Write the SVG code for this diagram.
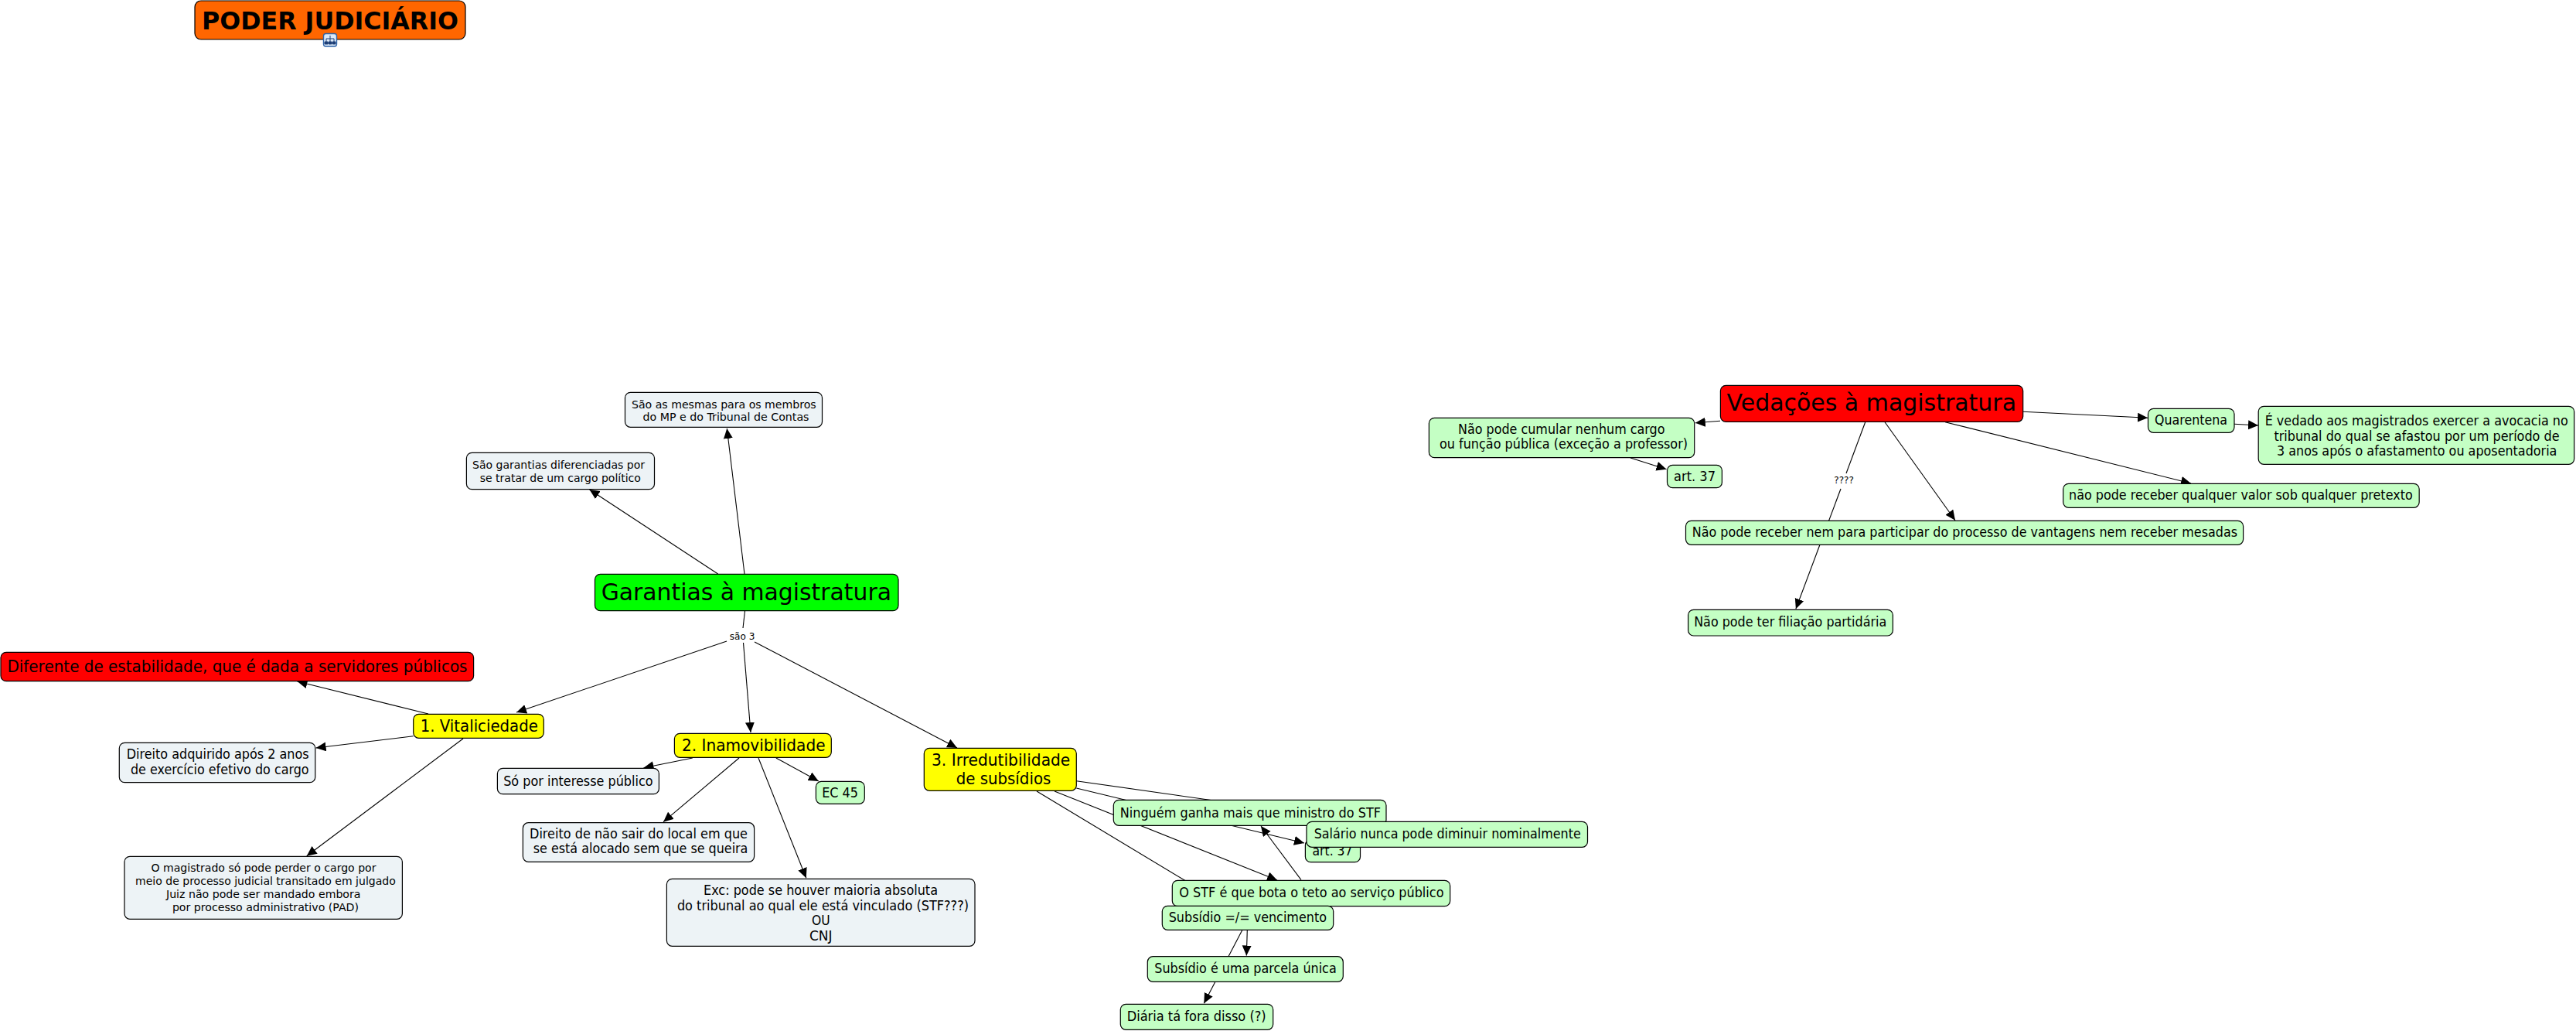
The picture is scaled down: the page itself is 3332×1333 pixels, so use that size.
<svg xmlns="http://www.w3.org/2000/svg" width="3332" height="1333" viewBox="0 0 3332 1333">
<style>
text{font-family:"DejaVu Sans","Verdana",sans-serif;fill:#000}
.t12{font-size:12.5px}.t14{font-size:14.6px}.t16{font-size:16.8px}.t20{font-size:21px}.t30{font-size:31px}.tb{font-size:32px;font-weight:bold}
rect{stroke:#000;stroke-width:1.2}
.g{fill:#c4ffc4}.b{fill:#edf3f6}.y{fill:#ff0}.r{fill:#f00}.l{fill:#0f0}.o{fill:#f60}
#connectors path{fill:none;stroke:#000;stroke-width:1.1}
#connectors .a{marker-end:url(#h)}
</style>
<defs><marker id="h" markerUnits="userSpaceOnUse" markerWidth="15" markerHeight="13" refX="13" refY="6" orient="auto"><path d="M0,0L13,6L0,12z" fill="#000"/></marker></defs>
<rect width="3332" height="1333" style="fill:#fff;stroke:none"/>
<g id="connectors">
<path class="a" d="M963,742L940.3,554"/>
<path class="a" d="M928.6,742L762.5,633"/>
<path d="M963.5,790L961,812"/>
<path class="a" d="M940,829L668,921"/>
<path class="a" d="M961.5,831L971,947"/>
<path class="a" d="M976,830L1238,967"/>
<path class="a" d="M554,923L384.5,881"/>
<path class="a" d="M534.7,951.7L408.6,967"/>
<path class="a" d="M599,955L396.7,1106.7"/>
<path class="a" d="M895.8,980L832.5,992.7"/>
<path class="a" d="M956,980L858,1062.7"/>
<path class="a" d="M981,980L1042.8,1135.3"/>
<path class="a" d="M1003.8,980L1058.8,1010"/>
<path class="a" d="M1392.3,1009.7L1760,1062"/>
<path class="a" d="M1392.3,1019L1687,1090"/>
<path class="a" d="M1364,1023L1652,1138"/>
<path class="a" d="M1341,1023L1587,1171"/>
<path class="a" d="M1683,1137.7L1631,1068"/>
<path class="a" d="M1613.3,1202.7L1612.3,1235.5"/>
<path class="a" d="M1606.7,1202.7L1557.3,1297.3"/>
<path class="a" d="M2225,544.3L2192.8,546.7"/>
<path class="a" d="M2109,592L2155.5,606.7"/>
<path d="M2412.7,545.7L2388,612"/>
<path class="a" d="M2381,632L2322.9,787.3"/>
<path class="a" d="M2438,545.7L2529,672.7"/>
<path class="a" d="M2516,545.7L2834,625"/>
<path class="a" d="M2616.7,532.3L2778,540.3"/>
<path class="a" d="M2890,548.3L2921,550"/>
</g>
<g id="n-sao3"><text class="t12" x="943.8" y="827" textLength="32.5" lengthAdjust="spacingAndGlyphs">são 3</text></g>
<g id="n-q"><text class="t12" x="2372.3" y="624.7" textLength="25.6" lengthAdjust="spacingAndGlyphs">????</text></g>
<g id="n-titulo"><rect class="o" x="252" y="1" width="350" height="50" rx="8"/><text class="tb" x="261" y="37.7" textLength="332" lengthAdjust="spacingAndGlyphs">PODER JUDICIÁRIO</text>
<rect x="418.5" y="43.5" width="17" height="16.5" rx="3" style="fill:#dbe9f8;stroke:#2f64a8;stroke-width:1.4"/><path d="M427,46v3M422,50h10M422,50v4M432,50v4M427,49v5M420,54h4v3h-4zM425,54h4v3h-4zM430,54h4v3h-4z" fill="#1c3f77" stroke="#1c3f77" stroke-width="1"/></g>
<g id="n-garantias"><rect class="l" x="769.5" y="742.3" width="392.5" height="47.4" rx="7"/><text class="t30" x="777.7" y="775.7" textLength="375.3" lengthAdjust="spacingAndGlyphs">Garantias à magistratura</text></g>
<g id="n-mesmas"><rect class="b" x="808.5" y="507.3" width="255" height="45" rx="7"/><text class="t14" x="817" y="527.7" textLength="238.7" lengthAdjust="spacingAndGlyphs">São as mesmas para os membros</text><text class="t14" x="831.5" y="544.3" textLength="215" lengthAdjust="spacingAndGlyphs">do MP e do Tribunal de Contas</text></g>
<g id="n-diferenciadas"><rect class="b" x="603.4" y="585.3" width="243.1" height="47.4" rx="7"/><text class="t14" x="611" y="605.7" textLength="223" lengthAdjust="spacingAndGlyphs">São garantias diferenciadas por</text><text class="t14" x="620.7" y="622.7" textLength="208.2" lengthAdjust="spacingAndGlyphs">se tratar de um cargo político</text></g>
<g id="n-diferente"><rect class="r" x="1" y="843.3" width="611.6" height="37.4" rx="7"/><text class="t20" x="9.4" y="868.7" textLength="595.1" lengthAdjust="spacingAndGlyphs">Diferente de estabilidade, que é dada a servidores públicos</text></g>
<g id="n-vitaliciedade"><rect class="y" x="534.7" y="923.3" width="168.6" height="31" rx="7"/><text class="t20" x="543.7" y="946" textLength="152.2" lengthAdjust="spacingAndGlyphs">1. Vitaliciedade</text></g>
<g id="n-adquirido"><rect class="b" x="154.3" y="960.3" width="253.5" height="51.4" rx="7"/><text class="t16" x="163.7" y="981.3" textLength="235.9" lengthAdjust="spacingAndGlyphs">Direito adquirido após 2 anos</text><text class="t16" x="169" y="1001" textLength="230.6" lengthAdjust="spacingAndGlyphs">de exercício efetivo do cargo</text></g>
<g id="n-perder"><rect class="b" x="161" y="1107.3" width="359.4" height="81" rx="7"/><text class="t14" x="195.5" y="1127" textLength="291" lengthAdjust="spacingAndGlyphs">O magistrado só pode perder o cargo por</text><text class="t14" x="175" y="1144" textLength="336.8" lengthAdjust="spacingAndGlyphs">meio de processo judicial transitado em julgado</text><text class="t14" x="215" y="1161" textLength="251.5" lengthAdjust="spacingAndGlyphs">Juiz não pode ser mandado embora</text><text class="t14" x="222.9" y="1178" textLength="241.1" lengthAdjust="spacingAndGlyphs">por processo administrativo (PAD)</text></g>
<g id="n-inamovibilidade"><rect class="y" x="872.4" y="948.3" width="202.9" height="31" rx="7"/><text class="t20" x="882" y="971" textLength="185.5" lengthAdjust="spacingAndGlyphs">2. Inamovibilidade</text></g>
<g id="n-interesse"><rect class="b" x="643.4" y="993.3" width="209" height="33.4" rx="7"/><text class="t16" x="651.2" y="1015.7" textLength="193.4" lengthAdjust="spacingAndGlyphs">Só por interesse público</text></g>
<g id="n-ec45"><rect class="g" x="1055.4" y="1010.3" width="62.9" height="29" rx="7"/><text class="t16" x="1063.2" y="1031" textLength="46.8" lengthAdjust="spacingAndGlyphs">EC 45</text></g>
<g id="n-local"><rect class="b" x="676.4" y="1063.7" width="299.2" height="50.6" rx="7"/><text class="t16" x="685" y="1083.7" textLength="282" lengthAdjust="spacingAndGlyphs">Direito de não sair do local em que</text><text class="t16" x="689.8" y="1103.3" textLength="277.6" lengthAdjust="spacingAndGlyphs">se está alocado sem que se queira</text></g>
<g id="n-exc"><rect class="b" x="862.4" y="1136.3" width="398.6" height="87" rx="7"/><text class="t16" x="910" y="1157" textLength="303" lengthAdjust="spacingAndGlyphs">Exc: pode se houver maioria absoluta</text><text class="t16" x="875.9" y="1176.7" textLength="377.1" lengthAdjust="spacingAndGlyphs">do tribunal ao qual ele está vinculado (STF???)</text><text class="t16" x="1050" y="1196.3" textLength="23.6" lengthAdjust="spacingAndGlyphs">OU</text><text class="t16" x="1047" y="1215.7" textLength="29.6" lengthAdjust="spacingAndGlyphs">CNJ</text></g>
<g id="n-irredutibilidade"><rect class="y" x="1195.3" y="967.3" width="197" height="55" rx="7"/><text class="t20" x="1205" y="990" textLength="179.3" lengthAdjust="spacingAndGlyphs">3. Irredutibilidade</text><text class="t20" x="1236.7" y="1014" textLength="122.6" lengthAdjust="spacingAndGlyphs">de subsídios</text></g>
<g id="n-art37b"><rect class="g" x="1688.4" y="1085.7" width="71.1" height="29" rx="7"/><text class="t16" x="1697.5" y="1106" textLength="52" lengthAdjust="spacingAndGlyphs">art. 37</text></g>
<g id="n-ninguem"><rect class="g" x="1440.3" y="1034.3" width="352.7" height="33" rx="7"/><text class="t16" x="1448.7" y="1056.7" textLength="337.3" lengthAdjust="spacingAndGlyphs">Ninguém ganha mais que ministro do STF</text></g>
<g id="n-salario"><rect class="g" x="1690" y="1062.3" width="363.5" height="33" rx="7"/><text class="t16" x="1699.7" y="1084" textLength="345.1" lengthAdjust="spacingAndGlyphs">Salário nunca pode diminuir nominalmente</text></g>
<g id="n-teto"><rect class="g" x="1516.3" y="1138.3" width="359.4" height="33.4" rx="7"/><text class="t16" x="1525.3" y="1160.3" textLength="342.2" lengthAdjust="spacingAndGlyphs">O STF é que bota o teto ao serviço público</text></g>
<g id="n-subsidio"><rect class="g" x="1503.3" y="1171.3" width="221.4" height="31" rx="7"/><text class="t16" x="1511.7" y="1192.3" textLength="204.3" lengthAdjust="spacingAndGlyphs">Subsídio =/= vencimento</text></g>
<g id="n-parcela"><rect class="g" x="1484.3" y="1236.7" width="253" height="32.6" rx="7"/><text class="t16" x="1493.3" y="1258.3" textLength="235.4" lengthAdjust="spacingAndGlyphs">Subsídio é uma parcela única</text></g>
<g id="n-diaria"><rect class="g" x="1449.3" y="1298.3" width="197.4" height="33" rx="7"/><text class="t16" x="1457.7" y="1320" textLength="180" lengthAdjust="spacingAndGlyphs">Diária tá fora disso (?)</text></g>
<g id="n-vedacoes"><rect class="r" x="2225.4" y="498.3" width="391.3" height="47" rx="7"/><text class="t30" x="2233.6" y="530.7" textLength="374.4" lengthAdjust="spacingAndGlyphs">Vedações à magistratura</text></g>
<g id="n-cumular"><rect class="g" x="1848.4" y="540.3" width="343.3" height="51.4" rx="7"/><text class="t16" x="1886" y="561" textLength="267.5" lengthAdjust="spacingAndGlyphs">Não pode cumular nenhum cargo</text><text class="t16" x="1862" y="580.3" textLength="321" lengthAdjust="spacingAndGlyphs">ou função pública (exceção a professor)</text></g>
<g id="n-art37a"><rect class="g" x="2156.5" y="601.3" width="70.9" height="29.4" rx="7"/><text class="t16" x="2165" y="622" textLength="54" lengthAdjust="spacingAndGlyphs">art. 37</text></g>
<g id="n-vantagens"><rect class="g" x="2180.5" y="673.3" width="721.1" height="31" rx="7"/><text class="t16" x="2188.7" y="694" textLength="705.3" lengthAdjust="spacingAndGlyphs">Não pode receber nem para participar do processo de vantagens nem receber mesadas</text></g>
<g id="n-filiacao"><rect class="g" x="2183.6" y="788.3" width="264.8" height="33.7" rx="7"/><text class="t16" x="2191.2" y="810" textLength="249" lengthAdjust="spacingAndGlyphs">Não pode ter filiação partidária</text></g>
<g id="n-quarentena"><rect class="g" x="2778.5" y="528.3" width="111.5" height="31" rx="7"/><text class="t16" x="2787" y="549" textLength="94" lengthAdjust="spacingAndGlyphs">Quarentena</text></g>
<g id="n-avocacia"><rect class="g" x="2921.2" y="525.3" width="408.5" height="75" rx="7"/><text class="t16" x="2929.7" y="550.3" textLength="392.1" lengthAdjust="spacingAndGlyphs">É vedado aos magistrados exercer a avocacia no</text><text class="t16" x="2941.4" y="569.7" textLength="369.2" lengthAdjust="spacingAndGlyphs">tribunal do qual se afastou por um período de</text><text class="t16" x="2945" y="589" textLength="362.4" lengthAdjust="spacingAndGlyphs">3 anos após o afastamento ou aposentadoria</text></g>
<g id="n-pretexto"><rect class="g" x="2668.7" y="625.3" width="460.5" height="31" rx="7"/><text class="t16" x="2676" y="645.7" textLength="444.7" lengthAdjust="spacingAndGlyphs">não pode receber qualquer valor sob qualquer pretexto</text></g>
</svg>
